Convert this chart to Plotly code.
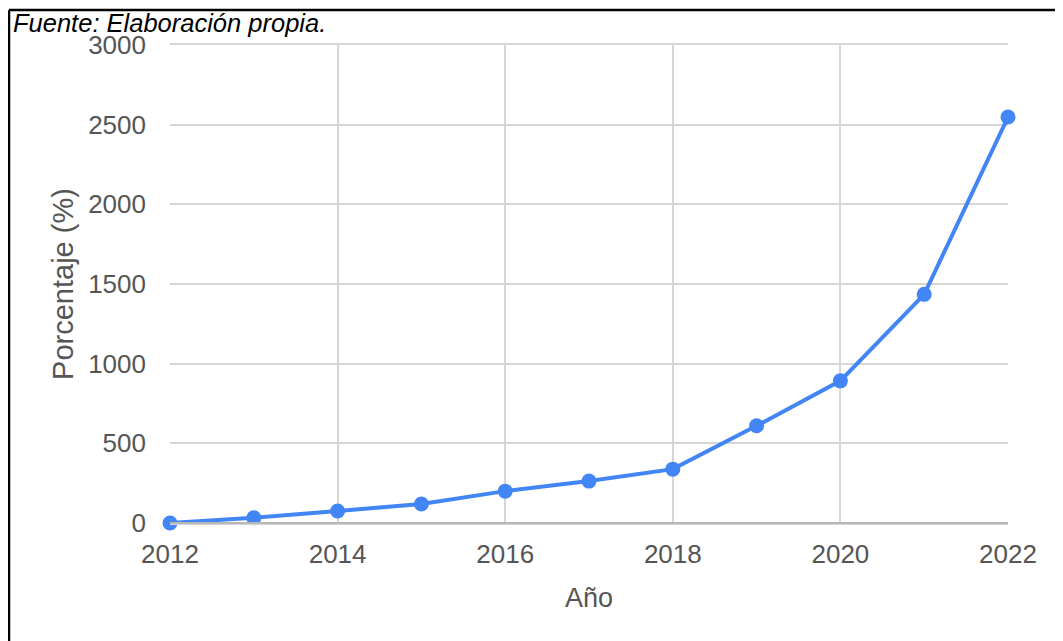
import plotly.graph_objects as go

years = [2012, 2013, 2014, 2015, 2016, 2017, 2018, 2019, 2020, 2021, 2022]
porcentaje = [0, 33, 75, 119, 200, 263, 338, 610, 892, 1435, 2548]
x_ticks = [2012, 2014, 2016, 2018, 2020, 2022]
y_ticks = [0, 500, 1000, 1500, 2000, 2500, 3000]

# page has an 8px body margin, so the figure is laid out in shifted coordinates
W, H = 1055, 633
L, R, T, B = 162, 1000, 37, 515
pw, ph = R - L, B - T

def px(x):
    return (x - L) / pw

def py(y):
    return (B - y) / ph

fig = go.Figure()
fig.add_trace(go.Scatter(
    x=years, y=porcentaje, mode="lines+markers",
    line=dict(color="#4285F4", width=4),
    marker=dict(color="#4285F4", size=15),
    cliponaxis=False, showlegend=False,
))

grid = "#d6d6d6"
fig.update_layout(
    width=W, height=H,
    margin=dict(l=L, r=W - R, t=T, b=H - B, autoexpand=False),
    paper_bgcolor="white", plot_bgcolor="white",
    font=dict(family="Arial, Liberation Sans, sans-serif", color="#555555", size=26),
    xaxis=dict(
        range=[2012, 2022], tickvals=x_ticks, ticktext=[str(v) for v in x_ticks],
        showgrid=True, gridcolor=grid, gridwidth=1.5,
        showline=True, mirror=True, linecolor=grid, linewidth=1.5,
        zeroline=False, ticks="", ticklabelstandoff=7,
        title=dict(text="Año", font=dict(size=27, color="#555555"), standoff=20),
        automargin=False,
    ),
    yaxis=dict(
        range=[0, 3000], tickvals=y_ticks, ticktext=[str(v) for v in y_ticks],
        showgrid=True, gridcolor=grid, gridwidth=1.5,
        showline=False, zeroline=False, ticks="", ticklabelstandoff=23,
        title=dict(text="Porcentaje (%)", font=dict(size=29, color="#555555"), standoff=6),
        automargin=False,
    ),
    shapes=[
        dict(type="line", xref="paper", yref="paper", x0=0, x1=1, y0=0, y1=0,
             line=dict(color="#b7b7b7", width=2)),
        dict(type="line", xref="paper", yref="paper", x0=px(1), x1=px(1), y0=py(2), y1=py(H),
             line=dict(color="black", width=2.5)),
        dict(type="line", xref="paper", yref="paper", x0=px(1), x1=px(W), y0=py(2), y1=py(2),
             line=dict(color="black", width=2.5)),
    ],
    annotations=[
        dict(text="<i>Fuente: Elaboración propia.</i>", xref="paper", yref="paper",
             x=px(3), y=py(15), xanchor="left", yanchor="middle", showarrow=False,
             font=dict(size=25.5, color="black", family="Arial, Liberation Sans, sans-serif")),
    ],
)

fig.write_html("out.html")
